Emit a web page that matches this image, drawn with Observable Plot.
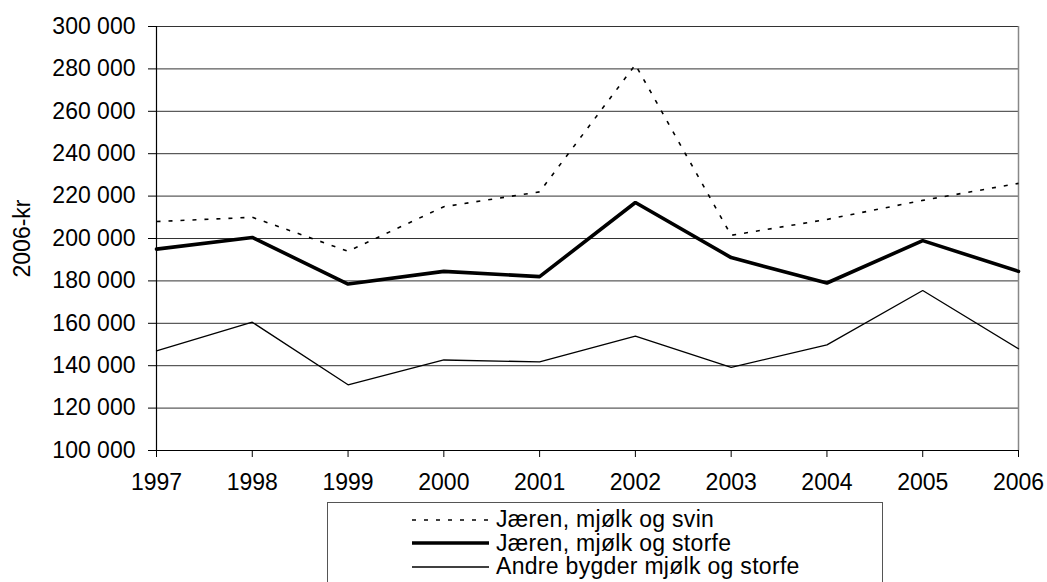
<!DOCTYPE html>
<html>
<head>
<meta charset="utf-8">
<script src="https://cdn.jsdelivr.net/npm/d3@7"></script>
<script src="https://cdn.jsdelivr.net/npm/@observablehq/plot@0.6"></script>
<style>
  html, body { margin: 0; padding: 0; background: #fff; }
  body { width: 1047px; height: 582px; overflow: hidden; font-family: "Liberation Sans", Arial, sans-serif; }
  #chart svg { display: block; }
  #legend {
    position: relative;
    margin-left: 327px;
    margin-top: 2px;
    width: 556px;
    height: 95px;
    border: 1px solid #555;
    box-sizing: border-box;
    font-size: 23px;
    letter-spacing: 0.3px;
    color: #000;
    padding-top: 5px;
  }
  .row { display: flex; align-items: center; height: 23.5px; line-height: 23.5px; white-space: nowrap; }
  .row svg { margin-left: 84px; margin-right: 7px; flex: none; }
</style>
</head>
<body>
<div id="chart"></div>
<div id="legend"></div>
<script>
const years = [1997, 1998, 1999, 2000, 2001, 2002, 2003, 2004, 2005, 2006];
const seriesNames = ["Jæren, mjølk og svin", "Jæren, mjølk og storfe", "Andre bygder mjølk og storfe"];
const svin   = [208000, 210000, 194000, 215000, 222000, 282000, 201500, 209000, 218000, 226000];
const storfe = [195000, 200500, 178500, 184500, 182000, 217000, 191000, 179000, 199000, 184500];
const andre  = [147000, 160500, 131000, 142700, 141800, 154000, 139200, 149800, 175500, 148000];
const yTicks = [100000, 120000, 140000, 160000, 180000, 200000, 220000, 240000, 260000, 280000, 300000];
const yLabel = "2006-kr";

const styles = [
  {stroke: "#000", strokeWidth: 1.6, strokeDasharray: "4,8", strokeLinecap: "butt"},
  {stroke: "#000", strokeWidth: 3.6},
  {stroke: "#000", strokeWidth: 1.3}
];
const allSeries = [svin, storfe, andre];
const tables = allSeries.map(vals => years.map((yr, i) => ({year: yr, value: vals[i]})));

const locale = d3.formatLocale({decimal: ",", thousands: "\u00a0", grouping: [3], currency: ["", " kr"]});
const fmt = locale.format(",");

const chart = Plot.plot({
  width: 1047,
  height: 500,
  marginLeft: 156,
  marginRight: 29,
  marginTop: 26,
  marginBottom: 50,
  style: {fontFamily: "Liberation Sans, Arial, sans-serif", fontSize: "23px", color: "#000", background: "#fff"},
  x: {type: "linear", domain: [1997, 2006]},
  y: {domain: [100000, 300000]},
  marks: [
    Plot.ruleY(yTicks, {stroke: "#333", strokeWidth: 1}),
    Plot.ruleX([2006], {stroke: "#888", strokeWidth: 1.5}),
    Plot.axisY({ticks: yTicks, tickFormat: fmt, tickSize: 8, tickPadding: 13, label: null, stroke: "#000"}),
    Plot.axisX({ticks: years, tickFormat: "d", tickSize: 7, tickPadding: 16, label: null, stroke: "#000"}),
    Plot.ruleX([1997], {stroke: "#000", strokeWidth: 1.2}),
    Plot.ruleY([100000], {stroke: "#000", strokeWidth: 1.2}),
    ...tables.map((t, k) => Plot.line(t, {x: "year", y: "value", strokeLinejoin: "miter", ...styles[k]})),
    Plot.text([yLabel], {text: d => d, frameAnchor: "left", textAnchor: "middle", rotate: -90, dx: -134, fontSize: 23, fill: "#000"})
  ]
});
document.getElementById("chart").appendChild(chart);

const legend = document.getElementById("legend");
seriesNames.forEach((name, k) => {
  const row = document.createElement("div");
  row.className = "row";
  const ns = "http://www.w3.org/2000/svg";
  const sw = document.createElementNS(ns, "svg");
  sw.setAttribute("width", 77);
  sw.setAttribute("height", 10);
  const ln = document.createElementNS(ns, "line");
  ln.setAttribute("x1", 0); ln.setAttribute("x2", 77);
  ln.setAttribute("y1", 5); ln.setAttribute("y2", 5);
  ln.setAttribute("stroke", styles[k].stroke);
  ln.setAttribute("stroke-width", styles[k].strokeWidth);
  if (styles[k].strokeDasharray) ln.setAttribute("stroke-dasharray", styles[k].strokeDasharray);
  sw.appendChild(ln);
  row.appendChild(sw);
  const span = document.createElement("span");
  span.textContent = name;
  row.appendChild(span);
  legend.appendChild(row);
});
</script>
</body>
</html>
